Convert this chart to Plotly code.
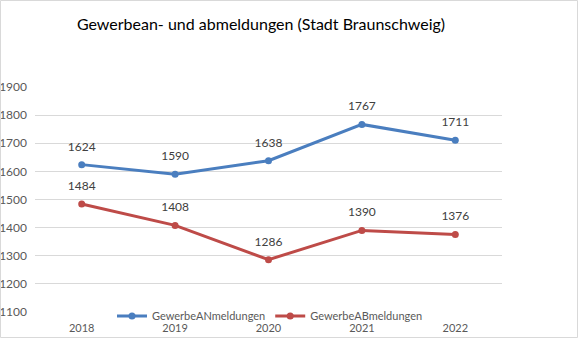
import plotly.graph_objects as go

years = ["2018", "2019", "2020", "2021", "2022"]
anmeldungen = [1624, 1590, 1638, 1767, 1711]
abmeldungen = [1484, 1408, 1286, 1390, 1376]
y_ticks = [1100, 1200, 1300, 1400, 1500, 1600, 1700, 1800, 1900]

W, H = 578, 338
L, R, T, B = 35, 76, 87, 26
pw, ph = W - L - R, H - T - B

blue = "#4A7EBF"
red = "#BE4B48"
font = "Lato"

fig = go.Figure()
for name, vals, col in (("GewerbeANmeldungen", anmeldungen, blue), ("GewerbeABmeldungen", abmeldungen, red)):
    fig.add_trace(go.Scatter(x=years, y=vals, mode="lines+markers", name=name,
                             line=dict(color=col, width=3), marker=dict(size=7, color=col)))
for vals in (anmeldungen, abmeldungen):
    fig.add_trace(go.Scatter(x=years, y=vals, mode="markers+text", text=[str(v) for v in vals],
                             textposition="top center", showlegend=False, hoverinfo="skip",
                             marker=dict(size=16, opacity=0),
                             textfont=dict(family=font, size=12, color="#404040")))

fig.update_layout(
    width=W, height=H, margin=dict(l=L, r=R, t=T, b=B, autoexpand=False),
    paper_bgcolor="white", plot_bgcolor="white",
    title=dict(text="Gewerbean- und abmeldungen (Stadt Braunschweig)", x=(261 - L) / pw, xref="paper",
               xanchor="center", y=1 - 24 / H, yanchor="middle",
               font=dict(family=font, size=16, color="#000000")),
    xaxis=dict(type="category", showgrid=False, showline=False, zeroline=False, ticks="",
               automargin=False, ticklabelstandoff=8,
               tickfont=dict(family=font, size=11, color="#595959"), range=[-0.5, 4.5]),
    yaxis=dict(range=[1100, 1900], tickvals=y_ticks, showgrid=True, gridcolor="#D9D9D9", gridwidth=1,
               zeroline=False, showline=False, ticks="", ticklabelstandoff=7, automargin=False,
               tickfont=dict(family=font, size=12, color="#595959")),
    showlegend=True,
    legend=dict(orientation="h", x=(270 - L) / pw, xanchor="center", y=-4 / ph, yanchor="middle",
                bgcolor="rgba(0,0,0,0)", font=dict(family=font, size=11, color="#595959"),
                itemwidth=30, tracegroupgap=0),
    shapes=[dict(type="rect", xref="paper", yref="paper",
                 x0=(-L + 0.5) / pw, x1=(W - L - 0.5) / pw,
                 y0=(-B + 0.5) / ph, y1=(H - B - 0.5) / ph,
                 line=dict(color="#D9D9D9", width=1))],
)

fig.write_html("out.html")
